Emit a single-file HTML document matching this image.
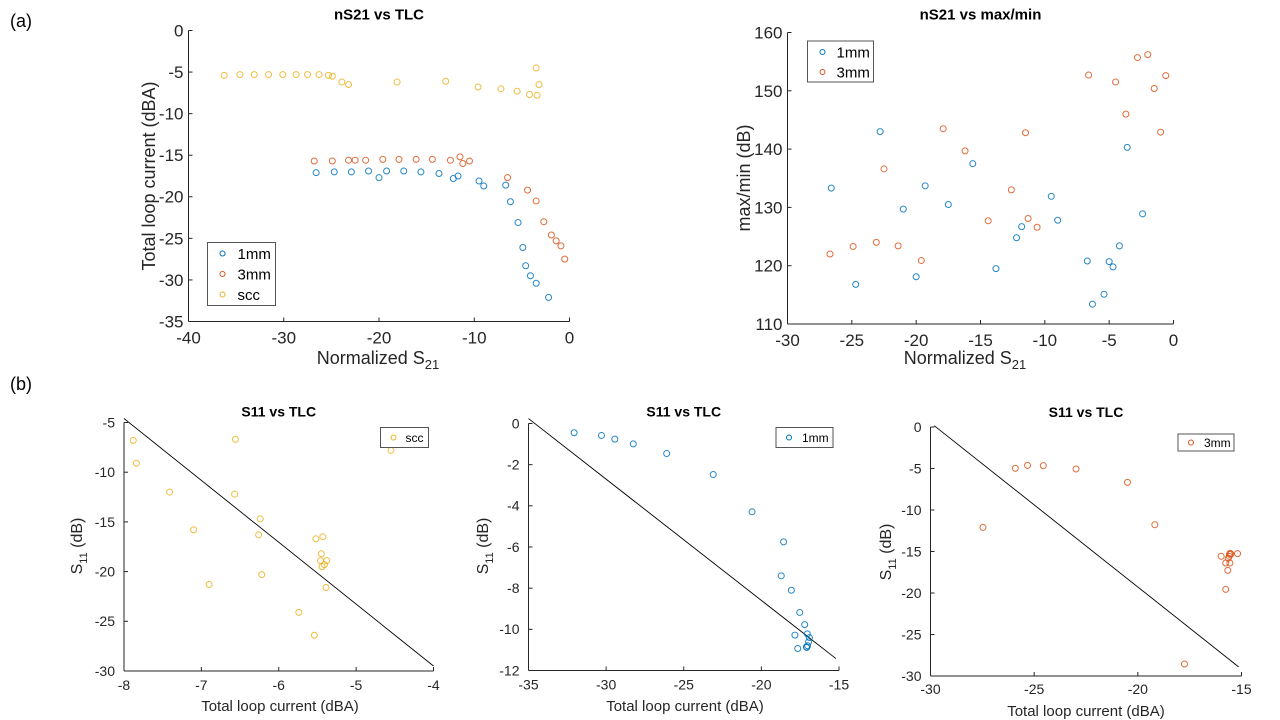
<!DOCTYPE html>
<html><head><meta charset="utf-8">
<style>
html,body{margin:0;padding:0;background:#fff;}
svg{display:block;font-family:"Liberation Sans",Arial,sans-serif;}
</style></head>
<body>
<svg id="fig" width="1280" height="720" viewBox="0 0 1280 720">
<text x="10" y="27" font-size="18" fill="#000">(a)</text>
<text x="10" y="390" font-size="18" fill="#000">(b)</text>
</svg>
<script>
// ---- Chart 1: nS21 vs TLC ----
const c1_1mm_x = [-26.6,-24.7,-22.9,-21.1,-20.0,-19.2,-17.4,-15.6,-13.7,-12.2,-11.7,-9.5,-9.0,-6.7,-6.2,-5.4,-4.9,-4.6,-4.1,-3.5,-2.2];
const c1_1mm_y = [-17.1,-17.0,-17.0,-16.9,-17.7,-16.9,-16.9,-17.0,-17.2,-17.8,-17.5,-18.1,-18.7,-18.6,-20.6,-23.1,-26.1,-28.3,-29.5,-30.4,-32.1];
const c1_3mm_x = [-26.8,-24.9,-23.2,-22.5,-21.4,-19.6,-17.9,-16.1,-14.4,-12.5,-11.5,-11.2,-10.5,-6.5,-4.4,-3.5,-2.7,-1.9,-1.4,-0.9,-0.5];
const c1_3mm_y = [-15.7,-15.7,-15.6,-15.6,-15.6,-15.5,-15.5,-15.5,-15.5,-15.6,-15.2,-16.0,-15.7,-17.7,-19.2,-20.5,-23.0,-24.6,-25.3,-25.9,-27.5];
const c1_scc_x = [-36.25,-34.6,-33.1,-31.6,-30.1,-28.7,-27.5,-26.3,-25.3,-24.9,-23.9,-23.2,-18.1,-13.0,-9.6,-7.2,-5.5,-4.2,-3.5,-3.4,-3.2];
const c1_scc_y = [-5.4,-5.3,-5.3,-5.3,-5.3,-5.3,-5.3,-5.3,-5.4,-5.5,-6.2,-6.5,-6.2,-6.1,-6.8,-7.0,-7.3,-7.7,-4.5,-7.8,-6.5];
const c1_xticks = [-40,-30,-20,-10,0];
const c1_yticks = [0,-5,-10,-15,-20,-25,-30,-35];
// ---- Chart 2: nS21 vs max/min ----
const c2_1mm_x = [-26.6,-24.7,-22.8,-21.0,-20.0,-19.3,-17.5,-15.6,-13.8,-12.2,-11.8,-9.5,-9.0,-6.7,-6.3,-5.4,-5.0,-4.7,-4.2,-3.6,-2.4];
const c2_1mm_y = [133.3,116.8,143.0,129.7,118.1,133.7,130.5,137.5,119.5,124.8,126.7,131.9,127.8,120.8,113.4,115.1,120.7,119.8,123.4,140.3,128.9];
const c2_3mm_x = [-26.7,-24.9,-23.1,-22.5,-21.4,-19.6,-17.9,-16.2,-14.4,-12.6,-11.5,-11.3,-10.6,-6.6,-4.5,-3.7,-2.8,-2.0,-1.5,-1.0,-0.6];
const c2_3mm_y = [122.0,123.3,124.0,136.6,123.4,120.9,143.5,139.7,127.7,133.0,142.8,128.1,126.6,152.7,151.5,146.0,155.7,156.2,150.4,142.9,152.6];
const c2_xticks = [-30,-25,-20,-15,-10,-5,0];
const c2_yticks = [110,120,130,140,150,160];
// ---- Chart 3: S11 vs TLC (scc) ----
const c3_x = [-7.88,-7.84,-7.41,-7.10,-6.90,-6.56,-6.57,-6.24,-6.26,-6.22,-5.74,-5.54,-5.52,-5.43,-5.45,-5.46,-5.38,-5.44,-5.41,-5.39,-4.55];
const c3_y = [-6.8,-9.1,-12.0,-15.8,-21.3,-6.7,-12.2,-14.7,-16.3,-20.3,-24.1,-26.4,-16.7,-16.5,-18.2,-18.9,-18.9,-19.5,-19.3,-21.6,-7.8];
const c3_line_x = [-8,-4];
const c3_line_y = [-4.6,-29.5];
const c3_xticks = [-8,-7,-6,-5,-4];
const c3_yticks = [-5,-10,-15,-20,-25,-30];
// ---- Chart 4: S11 vs TLC (1mm) ----
const c4_x = [-32.06,-30.3,-29.44,-28.25,-26.1,-23.1,-20.6,-18.57,-18.72,-18.07,-17.53,-17.21,-17.84,-17.66,-17.04,-16.91,-16.96,-17.02,-17.08,-17.1];
const c4_y = [-0.45,-0.58,-0.76,-0.99,-1.46,-2.48,-4.29,-5.75,-7.40,-8.10,-9.18,-9.77,-10.28,-10.93,-10.22,-10.40,-10.61,-10.80,-10.88,-10.85];
const c4_line_x = [-35,-15.2];
const c4_line_y = [0.24,-11.42];
const c4_xticks = [-35,-30,-25,-20,-15];
const c4_yticks = [0,-2,-4,-6,-8,-10,-12];
// ---- Chart 5: S11 vs TLC (3mm) ----
const c5_x = [-27.47,-25.91,-25.32,-24.56,-22.98,-20.50,-19.18,-17.75,-15.98,-15.76,-15.64,-15.58,-15.55,-15.51,-15.76,-15.66,-15.56,-15.19,-15.59];
const c5_y = [-12.1,-4.98,-4.62,-4.66,-5.06,-6.67,-11.77,-28.55,-15.58,-16.39,-15.82,-15.34,-15.22,-15.3,-19.56,-17.27,-16.39,-15.26,-15.58];
const c5_line_x = [-29.82,-15.14];
const c5_line_y = [0.16,-28.9];
const c5_xticks = [-30,-25,-20,-15];
const c5_yticks = [0,-5,-10,-15,-20,-25,-30];

const NS = "http://www.w3.org/2000/svg";
const svg = document.getElementById("fig");
const BLUE="#0072BD", ORANGE="#D95319", YELLOW="#EDB120", AX="#262626";
function mk(tag, attrs, parent){
  const e=document.createElementNS(NS,tag);
  for(const k in attrs) e.setAttribute(k,attrs[k]);
  (parent||svg).appendChild(e); return e;
}
function chart(o){
  const g=mk("g",{});
  
  
  const sx=v=>o.L+(v-o.xmin)/(o.xmax-o.xmin)*(o.R-o.L);
  const sy=v=>o.B-(v-o.ymin)/(o.ymax-o.ymin)*(o.B-o.T);
  const xa=mk("line",{x1:o.L,y1:o.B,x2:o.R,y2:o.B,stroke:AX,"stroke-width":1},g);
  
  
  const ya=mk("line",{x1:o.L,y1:o.B,x2:o.L,y2:o.T,stroke:AX,"stroke-width":1},g);
  
  
  o.xticks.forEach(v=>{
    const x=sx(v);
    mk("line",{x1:x,y1:o.B,x2:x,y2:o.B-4,stroke:AX},g);
    const t=mk("text",{x:x,y:o.B+o.fs+o.xdy,"text-anchor":"middle","font-size":o.fs,fill:AX},g);
    t.textContent=v;
    
    
  });
  o.yticks.forEach(v=>{
    const y=sy(v);
    mk("line",{x1:o.L,y1:y,x2:o.L+4,y2:y,stroke:AX},g);
    const t=mk("text",{x:o.L-o.ydx,y:y+o.fs*0.35,"text-anchor":"end","font-size":o.fs,fill:AX},g);
    t.textContent=v;
    
    
  });
  if(o.line){
    const ln=mk("line",{x1:sx(o.line[0][0]),y1:sy(o.line[1][0]),x2:sx(o.line[0][1]),y2:sy(o.line[1][1]),stroke:"#000","stroke-width":0.9},g);
    
    
  }
  o.series.forEach(s=>{
    s.x.forEach((xv,i)=>{
      const c=mk("circle",{cx:sx(xv),cy:sy(s.y[i]),r:3,fill:"none",stroke:s.c,"stroke-width":1,opacity:0.85},g);
      
      
    });
  });
  const ti=mk("text",{x:(o.L+o.R)/2,y:o.T-o.tdy,"text-anchor":"middle","font-size":o.tfs,"font-weight":"bold",fill:"#000"},g);
  ti.textContent=o.title;
  
  
  const lg=o.legend;
  const lb=mk("rect",{x:lg.x,y:lg.y,width:lg.w,height:lg.h,fill:"#fff",stroke:"#555","stroke-width":1},g);
  
  
  lg.items.forEach((it,i)=>{
    const yy=lg.y+lg.pad+i*lg.step;
    mk("circle",{cx:lg.x+lg.mx,cy:yy,r:2.5,fill:"none",stroke:it.c,"stroke-width":1},g);
    const t=mk("text",{x:lg.x+lg.tx,y:yy+lg.fs*0.36,"font-size":lg.fs,fill:"#000"},g);
    t.textContent=it.n;
    
    
  });
  return g;
}
function xlabel(x,y,fs,html,name){
  const t=mk("text",{x:x,y:y,"text-anchor":"middle","font-size":fs,fill:AX});
  t.innerHTML=html;
  
  
}
function ylabel(x,y,fs,html,name){
  const t=mk("text",{x:0,y:0,"text-anchor":"middle","font-size":fs,fill:AX,transform:`translate(${x},${y}) rotate(-90)`});
  t.innerHTML=html;
  
  
}

chart({name:"chart-ns21-vs-tlc",L:188.5,R:569.5,T:30.5,B:321.5,xmin:-40,xmax:0,ymin:-35,ymax:0,
  xticks:c1_xticks,yticks:c1_yticks,fs:17,xdy:5,ydx:5,title:"nS21 vs TLC",tfs:15,tdy:11,
  series:[{x:c1_1mm_x,y:c1_1mm_y,c:BLUE,n:"1mm"},{x:c1_3mm_x,y:c1_3mm_y,c:ORANGE,n:"3mm"},{x:c1_scc_x,y:c1_scc_y,c:YELLOW,n:"scc"}],
  legend:{x:207.5,y:242.5,w:68,h:63,pad:11,step:20.5,mx:15,tx:30,fs:15,items:[{n:"1mm",c:BLUE},{n:"3mm",c:ORANGE},{n:"scc",c:YELLOW}]}});
xlabel(378,364,18,'Normalized S<tspan font-size="13" dy="5">21</tspan>',"x-axis-title-1");
ylabel(155,176,18,'Total loop current (dBA)',"y-axis-title-1");

chart({name:"chart-ns21-vs-maxmin",L:787.5,R:1173.5,T:32.5,B:324,xmin:-30,xmax:0,ymin:110,ymax:160,
  xticks:c2_xticks,yticks:c2_yticks,fs:17,xdy:5,ydx:5,title:"nS21 vs max/min",tfs:15,tdy:13,
  series:[{x:c2_1mm_x,y:c2_1mm_y,c:BLUE,n:"1mm"},{x:c2_3mm_x,y:c2_3mm_y,c:ORANGE,n:"3mm"}],
  legend:{x:807.5,y:41,w:66,h:41,pad:11,step:20,mx:15,tx:29,fs:15,items:[{n:"1mm",c:BLUE},{n:"3mm",c:ORANGE}]}});
xlabel(965,364,18,'Normalized S<tspan font-size="13" dy="5">21</tspan>',"x-axis-title-2");
ylabel(750,178,18,'max/min (dB)',"y-axis-title-2");

chart({name:"chart-s11-vs-tlc-scc",L:124,R:433.5,T:422.5,B:671,xmin:-8,xmax:-4,ymin:-30,ymax:-5,
  xticks:c3_xticks,yticks:c3_yticks,fs:14,xdy:5,ydx:9,title:"S11 vs TLC",tfs:14,tdy:6,line:[c3_line_x,c3_line_y],
  series:[{x:c3_x,y:c3_y,c:YELLOW,n:"scc"}],
  legend:{x:380.5,y:427.5,w:48,h:20,pad:10,step:18,mx:13,tx:25,fs:12,items:[{n:"scc",c:YELLOW}]}});
xlabel(280,711,15,'Total loop current (dBA)',"x-axis-title-3");
ylabel(82,546,16,'S<tspan font-size="11" dy="5">11</tspan><tspan dy="-5"> (dB)</tspan>',"y-axis-title-3");

chart({name:"chart-s11-vs-tlc-1mm",L:528.5,R:839,T:423.5,B:670.5,xmin:-35,xmax:-15,ymin:-12,ymax:0,
  xticks:c4_xticks,yticks:c4_yticks,fs:14,xdy:5,ydx:9,title:"S11 vs TLC",tfs:14,tdy:7,line:[c4_line_x,c4_line_y],
  series:[{x:c4_x,y:c4_y,c:BLUE,n:"1mm"}],
  legend:{x:776,y:427.5,w:57,h:20,pad:10,step:18,mx:13,tx:26,fs:12,items:[{n:"1mm",c:BLUE}]}});
xlabel(685,711,15,'Total loop current (dBA)',"x-axis-title-4");
ylabel(488,546,16,'S<tspan font-size="11" dy="5">11</tspan><tspan dy="-5"> (dB)</tspan>',"y-axis-title-4");

chart({name:"chart-s11-vs-tlc-3mm",L:930.5,R:1241.5,T:427,B:676,xmin:-30,xmax:-15,ymin:-30,ymax:0,
  xticks:c5_xticks,yticks:c5_yticks,fs:14,xdy:4,ydx:9,title:"S11 vs TLC",tfs:14,tdy:10,line:[c5_line_x,c5_line_y],
  series:[{x:c5_x,y:c5_y,c:ORANGE,n:"3mm"}],
  legend:{x:1178,y:434,w:56,h:17,pad:8.5,step:18,mx:13,tx:26,fs:12,items:[{n:"3mm",c:ORANGE}]}});
xlabel(1086,716,15,'Total loop current (dBA)',"x-axis-title-5");
ylabel(891,552,16,'S<tspan font-size="11" dy="5">11</tspan><tspan dy="-5"> (dB)</tspan>',"y-axis-title-5");
</script>
</body></html>
